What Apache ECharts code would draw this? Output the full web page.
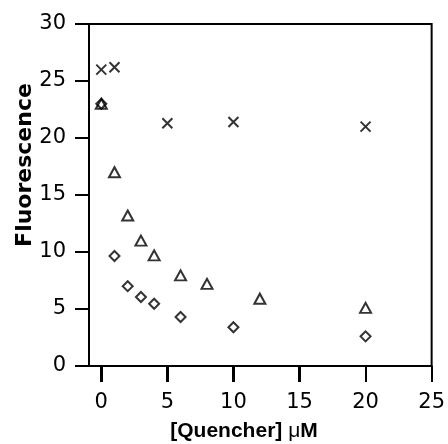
<!DOCTYPE html>
<html>
<head>
<meta charset="utf-8">
<script src="https://cdn.jsdelivr.net/npm/echarts@6/dist/echarts.min.js"></script>
<style>html,body{margin:0;padding:0;background:#fff}#c{width:448px;height:444px}</style>
</head>
<body>
<div id="c"></div>
<script>
// Data
const xTicks = [0, 5, 10, 15, 20, 25];
const yTicks = [0, 5, 10, 15, 20, 25, 30];
const crossX = [0, 1, 5, 10, 20];
const crossY = [26.0, 26.2, 21.3, 21.4, 21.0];
const triX = [0, 1, 2, 3, 4, 6, 8, 12, 20];
const triY = [23.0, 17.0, 13.2, 11.0, 9.7, 7.95, 7.2, 5.9, 5.1];
const diaX = [0, 1, 2, 3, 4, 6, 10, 20];
const diaY = [23.0, 9.65, 7.0, 6.05, 5.46, 4.3, 3.4, 2.6];

const pairs = (xs, ys) => xs.map((x, i) => [x, ys[i]]);
const FONT = '"DejaVu Sans", sans-serif';
const XMIN = -0.93, XMAX = 25, YMIN = 0, YMAX = 30;
const chart = echarts.init(document.getElementById('c'), null, {renderer: 'canvas'});
const markStyle = {color: 'none', borderColor: '#000', borderWidth: 2};
const titles = [{
  type: 'text', x: 25, y: 165, rotation: Math.PI / 2, z: 100,
  style: {text: 'Fluorescence', font: 'bold 22px ' + FONT, fill: '#000', align: 'center', verticalAlign: 'middle'}
}, {
  type: 'text', x: 244, y: 431, z: 100,
  style: {
    text: '[Quencher] {m|μ}M', font: 'bold 21px "Liberation Sans", Arial, sans-serif', fill: '#000', align: 'center', verticalAlign: 'middle',
    rich: {m: {font: '21px "Liberation Sans", Arial, sans-serif', fill: '#000'}}
  }
}];
chart.setOption({
  animation: false,
  backgroundColor: '#fff',
  grid: {left: 89, right: 14, top: 24, bottom: 78, show: true, borderColor: '#000', borderWidth: 2, backgroundColor: 'transparent'},
  xAxis: {
    type: 'value', min: XMIN, max: XMAX,
    axisLine: {show: true, onZero: false, lineStyle: {color: '#000', width: 2}},
    axisTick: {show: true, length: 16, customValues: xTicks, lineStyle: {color: '#000', width: 2}},
    axisLabel: {customValues: xTicks, margin: 26, color: '#000', fontSize: 21, fontFamily: FONT},
    splitLine: {show: false}
  },
  yAxis: {
    type: 'value', min: YMIN, max: YMAX, interval: 5,
    axisLine: {show: true, onZero: false, lineStyle: {color: '#000', width: 2}},
    axisTick: {show: true, length: 14, lineStyle: {color: '#000', width: 2}},
    axisLabel: {margin: 23, color: '#000', fontSize: 21, fontFamily: FONT},
    splitLine: {show: false}
  },
  graphic: titles,
  series: [{
    type: 'scatter', data: pairs(crossX, crossY),
    symbol: 'path://M0,0 L10,10 M10,0 L0,10', symbolSize: 10,
    itemStyle: markStyle
  }, {
    type: 'scatter', data: pairs(triX, triY),
    symbol: 'triangle', symbolSize: [11, 10],
    itemStyle: markStyle
  }, {
    type: 'scatter', data: pairs(diaX, diaY),
    symbol: 'diamond', symbolSize: [10, 10],
    itemStyle: markStyle
  }]
});
// Outward tick marks placed through the chart's own scales
const tickLines = [];
xTicks.forEach(v => {
  const p = chart.convertToPixel({gridIndex: 0}, [v, YMIN]);
  const x = Math.round(p[0]), y = Math.round(p[1]);
  tickLines.push({type: 'line', z: 100, shape: {x1: x, y1: y, x2: x, y2: y + 16}, style: {stroke: '#000', lineWidth: 2}});
});
yTicks.forEach(v => {
  const p = chart.convertToPixel({gridIndex: 0}, [XMIN, v]);
  const x = Math.round(p[0]), y = Math.round(p[1]);
  tickLines.push({type: 'line', z: 100, shape: {x1: x - 14, y1: y, x2: x, y2: y}, style: {stroke: '#000', lineWidth: 2}});
});
chart.setOption({graphic: titles.concat(tickLines)});
</script>
</body>
</html>
